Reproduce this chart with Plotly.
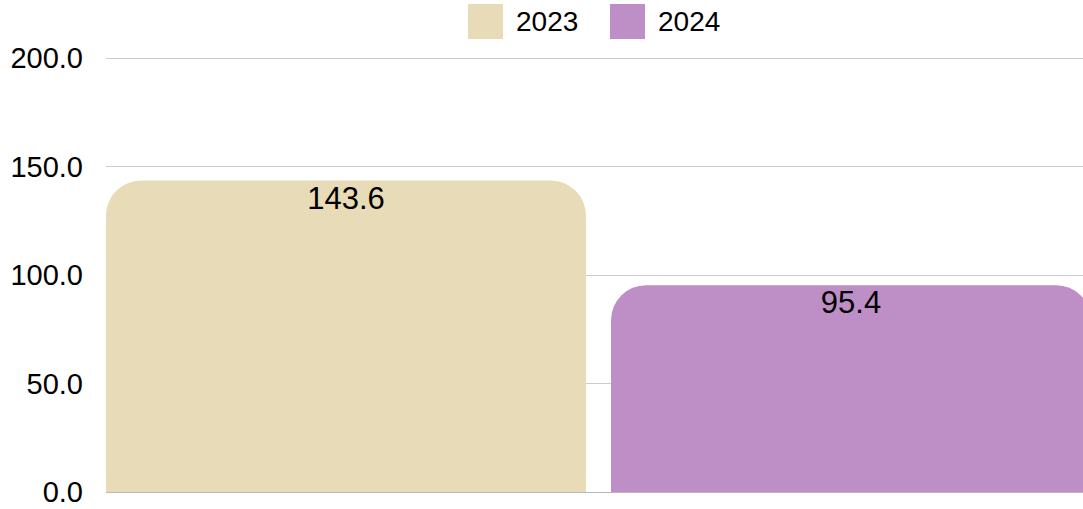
import plotly.graph_objects as go

# ---- data ----
categories = ["Total"]
series_names = ["2023", "2024"]
values_2023 = [143.6]
values_2024 = [95.4]
colors = ["#E8DBB8", "#BE8FC7"]
y_tickvals = [0, 50, 100, 150, 200]
y_ticktext = ["0.0", "50.0", "100.0", "150.0", "200.0"]

W, H = 1091, 509
ML, MR, MT, MB = 106, 0, 57, 17
FONT = "Liberation Sans, Arial, Helvetica, sans-serif"

fig = go.Figure()
series = [values_2023, values_2024]
for name, vals, col in zip(series_names, series, colors):
    fig.add_trace(go.Bar(
        x=categories, y=vals, name=name, offsetgroup=name,
        marker=dict(color=col, line=dict(width=0)),
        showlegend=False, hoverinfo="skip",
    ))
# value labels just under the bar tops
for name, vals in zip(series_names, series):
    fig.add_trace(go.Scatter(
        x=categories, y=vals, name=name + " label", offsetgroup=name,
        mode="markers+text", text=[f"{v:.1f}" for v in vals],
        marker=dict(size=6, opacity=0),
        textposition="bottom center",
        textfont=dict(family=FONT, size=31, color="#000000"),
        showlegend=False, hoverinfo="skip",
    ))

# legend drawn as squares + text (paper coordinates)
pw = W - ML - MR
ph = H - MT - MB
def px_x(p):
    return (p - ML) / pw
def px_y(p):
    return (H - MB - p) / ph

legend_items = [(468, 514), (610, 656)]
for (sx, tx), name, col in zip(legend_items, series_names, colors):
    fig.add_shape(type="rect", xref="paper", yref="paper",
                  x0=px_x(sx), x1=px_x(sx + 35), y0=px_y(39), y1=px_y(4),
                  fillcolor=col, line=dict(width=0), layer="above")
    fig.add_annotation(xref="paper", yref="paper", x=px_x(tx), y=px_y(21.5),
                       text=name, showarrow=False, xanchor="left", yanchor="middle",
                       font=dict(family=FONT, size=28, color="#000000"))

fig.update_layout(
    width=W, height=H,
    margin=dict(l=ML, r=MR, t=MT, b=MB, pad=0),
    paper_bgcolor="white", plot_bgcolor="white",
    barmode="group", bargap=0, bargroupgap=0.0495,
    scattermode="group", scattergap=0,
    barcornerradius=35,
    font=dict(family=FONT, size=28, color="#000000"),
    showlegend=False,
    xaxis=dict(showticklabels=False, showgrid=False, zeroline=False,
               showline=False, ticks="", range=[-0.4876, 0.4876]),
    yaxis=dict(range=[0, 200.6], tickvals=y_tickvals, ticktext=y_ticktext,
               showgrid=True, gridcolor="#CCCCCC", gridwidth=1,
               zeroline=True, zerolinecolor="#BBBBBB", zerolinewidth=1,
               showline=False, ticks="", ticklabelstandoff=22,
               tickfont=dict(family=FONT, size=29, color="#000000")),
)

fig.write_html(
    "out.html",
    config={"displayModeBar": False},
    post_script="document.body.style.margin='0px';document.body.style.overflow='hidden';",
)
